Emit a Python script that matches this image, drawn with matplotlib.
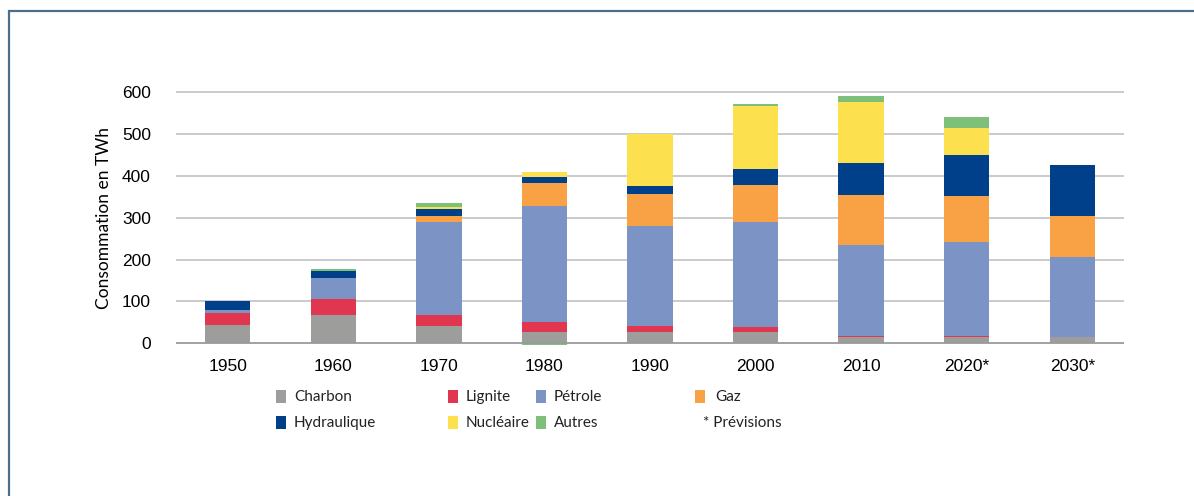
import numpy as np
import matplotlib.pyplot as plt
from matplotlib.patches import Rectangle

# données (TWh)
annees = ['1950', '1960', '1970', '1980', '1990', '2000', '2010', '2020*', '2030*']
charbon = [44, 68, 41, 26, 26, 26, 14, 14, 14]
lignite = [29, 38, 27, 24, 15, 13, 4, 4, 0]
petrole = [6, 49, 223, 279, 240, 250, 217, 225, 192]
gaz = [0, 1, 14, 55, 77, 89, 120, 109, 99]
hydraulique = [22, 18, 15, 14, 17, 39, 77, 97, 121]
nucleaire = [0, 0, 6, 12, 125, 150, 144, 65, 0]
autres = [0, 3, 9, -3, 0, 5, 14, 26, 0]

noms = ['Charbon', 'Lignite', 'Pétrole', 'Gaz', 'Hydraulique', 'Nucléaire', 'Autres']
couleurs = ['#9d9d9c', '#e0364f', '#7b93c5', '#f9a145', '#003f8a', '#fde04e', '#7ebf7a']
series = [charbon, lignite, petrole, gaz, hydraulique, nucleaire, autres]

W, H = 1194, 496
fig = plt.figure(figsize=(W / 100, H / 100), dpi=100)

def px(x, y):
    return x / W, 1 - y / H

# cadre
fig.patches.append(Rectangle(px(9, 520), (W + 20) / W, (520 - 11) / H,
                             transform=fig.transFigure, fill=False,
                             edgecolor='#4a6f8a', linewidth=1.6))

x0, y0 = px(176, 347.5)
x1, y1 = px(1124, 88.1)
ax = fig.add_axes([x0, y0, x1 - x0, y1 - y0])

x = np.arange(len(annees))
pos = np.zeros(len(annees))
neg = np.zeros(len(annees))
for s, c in zip(series, couleurs):
    v = np.array(s, dtype=float)
    base = np.where(v >= 0, pos, neg)
    ax.bar(x, v, bottom=base, width=0.43, color=c, zorder=3, linewidth=0)
    pos += np.where(v >= 0, v, 0)
    neg += np.where(v < 0, v, 0)

ax.set_xlim(-0.49, len(annees) - 0.51)
ax.set_ylim(-10, 610)
ax.set_yticks(range(0, 601, 100))
for yv in range(100, 601, 100):
    ax.axhline(yv, color='#c6c6c6', lw=1.3, zorder=1)
ax.axhline(0, color='#9a9a9a', lw=1.3, zorder=4)
for sp in ax.spines.values():
    sp.set_visible(False)
ax.tick_params(length=0)
ax.set_xticks(x)
ax.set_xticklabels(annees, family='Liberation Sans', fontsize=12.5)
for t in ax.get_yticklabels():
    t.set_family('Liberation Sans')
    t.set_fontsize(12.5)
ax.tick_params(axis='x', pad=8)
ax.tick_params(axis='y', pad=18)
ax.set_ylabel('Consommation en TWh', family='Lato', fontsize=12.5)
ax.yaxis.set_label_coords(-0.068, 0.5)

# légende
leg_font = 'Lato'
items = [('Charbon', 0, 276, 397), ('Lignite', 1, 448, 397), ('Pétrole', 2, 536, 397),
         ('Gaz', 3, 695, 397), ('Hydraulique', 4, 276, 423), ('Nucléaire', 5, 448, 423),
         ('Autres', 6, 536, 423)]
for nom, i, lx, ly in items:
    rx, ry = px(lx, ly + 6)
    fig.patches.append(Rectangle((rx, ry), 10 / W, 13 / H, transform=fig.transFigure,
                                 color=couleurs[i], linewidth=0))
    tx = lx + 18 if nom != 'Gaz' else lx + 20
    fig.text(*px(tx, ly), nom, family=leg_font, fontsize=11, va='center', color='#222222')
fig.text(*px(703, 423), '* Prévisions', family=leg_font, fontsize=11, va='center',
         color='#222222')

plt.savefig('out.png', dpi=100)
